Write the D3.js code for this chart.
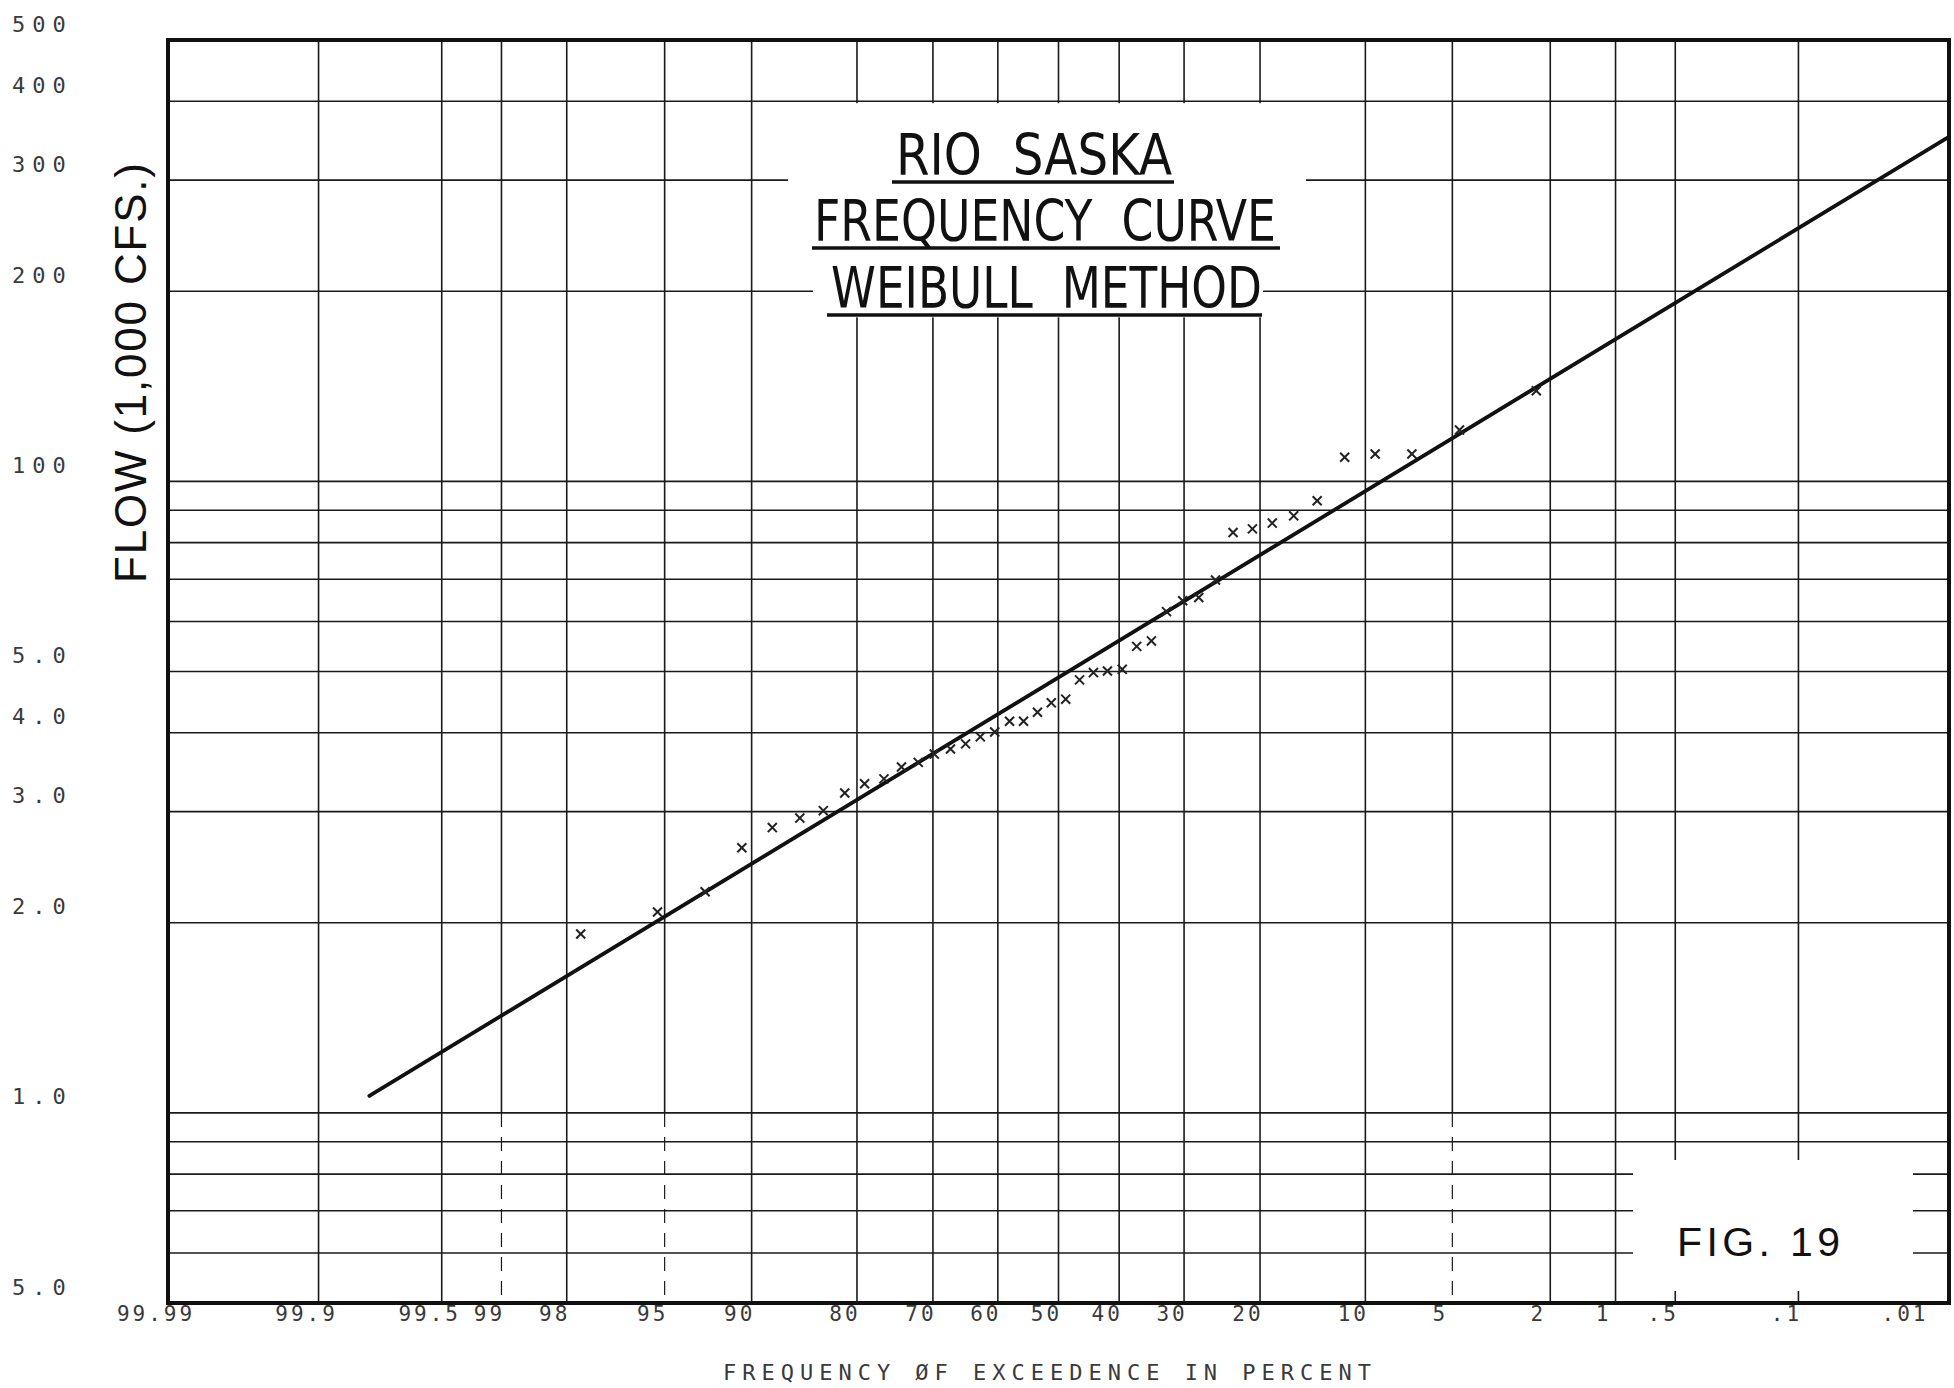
<!DOCTYPE html>
<html>
<head>
  <meta charset="UTF-8">
  <title>Rio Saska frequency curve</title>
  <style>
    body { margin: 0; background: #fff; }
    svg { display: block; }
    .tick { font-family: "DejaVu Sans Mono", monospace; font-size: 22px; fill: #3a3a3a; letter-spacing: 6px; }
    .big { font-family: "Liberation Sans", Arial, sans-serif; fill: #111; }
    .narrow { font-family: "Liberation Sans Narrow", "DejaVu Sans Condensed", "Liberation Sans", sans-serif; fill: #111; white-space: pre; }
  </style>
</head>
<body>
<svg></svg>
<script src="https://d3js.org/d3.v7.min.js"></script>
<script>

// plotted points: frequency of exceedence (%) and flow (1,000 cfs)
const exceed = [2.3, 4.7, 7.0, 9.3, 11.6, 14.0, 16.3, 18.6, 20.9, 23.3, 25.6, 27.9, 30.2, 32.6,
  34.9, 37.2, 39.5, 41.9, 44.2, 46.5, 48.8, 51.2, 53.5, 55.8, 58.1, 60.5, 62.8, 65.1,
  67.4, 69.8, 72.1, 74.4, 76.7, 79.1, 81.4, 83.7, 86.0, 88.4, 90.7, 93.0, 95.3, 97.7];
const flow = [139.2, 120.6, 110.5, 110.5, 109.2, 93.2, 88.2, 85.9, 84.1, 83.0, 69.8, 65.5, 64.7, 62.2,
  55.9, 54.8, 50.4, 50.1, 49.8, 48.5, 45.2, 44.6, 43.1, 41.7, 41.7, 40.1, 39.4, 38.4,
  37.7, 37.0, 35.9, 35.3, 33.8, 33.2, 32.1, 30.1, 29.3, 28.3, 26.3, 22.4, 20.8, 19.2];

// fitted frequency line (end points)
const lineExceed = [99.8, 0.0103];
const lineFlow = [10.64, 350];

// grid of the probability paper
const flowGrid = [400, 300, 200, 100, 90, 80, 70, 60, 50, 40, 30, 20, 10, 9, 8, 7, 6];
const exceedGrid = [99.9, 99.5, 99, 98, 95, 90, 80, 70, 60, 50, 40, 30, 20, 10, 5, 2, 1, 0.5, 0.1];
const exceedDashedLow = [99, 95, 5];
const exceedTickOnly = [0.5, 0.1];

// tick labels
const xTickValues = [99.99, 99.9, 99.5, 99, 98, 95, 90, 80, 70, 60, 50, 40, 30, 20, 10, 5, 2, 1, 0.5, 0.1, 0.01];
const xTickLabels = ["99.99", "99.9", "99.5", "99", "98", "95", "90", "80", "70", "60", "50",
  "40", "30", "20", "10", "5", "2", "1", ".5", ".1", ".01"];
const yTickValues = [500, 400, 300, 200, 100, 50, 40, 30, 20, 10, 5];
const yTickLabels = ["500", "400", "300", "200", "100", "5.0", "4.0", "3.0", "2.0", "1.0", "5.0"];

const titleLines = ["RIO  SASKA", "FREQUENCY  CURVE", "WEIBULL  METHOD"];

let width = 1954, height = 1388;
let frameL = 168, frameR = 1949, frameT = 40, frameB = 1303;

let svg = d3.select("svg").attr("width", width).attr("height", height);

// inverse normal cdf (Acklam)
function probit(p) {
  const a = [-39.6968302866538, 220.946098424521, -275.928510446969, 138.357751867269, -30.6647980661472, 2.50662827745924];
  const b = [-54.4760987982241, 161.585836858041, -155.698979859887, 66.8013118877197, -13.2806815528857];
  const c = [-0.00778489400243029, -0.322396458041136, -2.40075827716184, -2.54973253934373, 4.37466414146497, 2.93816398269878];
  const d = [0.00778469570904146, 0.32246712907004, 2.445134137143, 3.75440866190742];
  const lo = 0.02425;
  let q, r;
  if (p < lo) {
    q = Math.sqrt(-2 * Math.log(p));
    return (((((c[0]*q+c[1])*q+c[2])*q+c[3])*q+c[4])*q+c[5]) / ((((d[0]*q+d[1])*q+d[2])*q+d[3])*q+1);
  } else if (p <= 1 - lo) {
    q = p - 0.5; r = q * q;
    return (((((a[0]*r+a[1])*r+a[2])*r+a[3])*r+a[4])*r+a[5])*q / (((((b[0]*r+b[1])*r+b[2])*r+b[3])*r+b[4])*r+1);
  }
  q = Math.sqrt(-2 * Math.log(1 - p));
  return -(((((c[0]*q+c[1])*q+c[2])*q+c[3])*q+c[4])*q+c[5]) / ((((d[0]*q+d[1])*q+d[2])*q+d[3])*q+1);
}

let zScale = d3.scaleLinear().domain([-3.719, 3.719]).range([frameL, frameR]);
let x = p => zScale(probit(1 - p / 100));
let y = d3.scaleLog().domain([5, 500]).range([frameB, frameT]);

let grid = svg.append("g").attr("stroke", "#1a1a1a").attr("stroke-width", 1.6);

grid.selectAll("line.h")
  .data(flowGrid)
  .enter().append("line")
    .attr("x1", frameL).attr("x2", frameR)
    .attr("y1", d => y(d)).attr("y2", d => y(d));

grid.selectAll("line.v")
  .data(exceedGrid)
  .enter().append("line")
    .attr("x1", d => x(d)).attr("x2", d => x(d))
    .attr("y1", frameT)
    .attr("y2", d => exceedDashedLow.includes(d) ? y(10) : frameB);

grid.selectAll("line.vd")
  .data(exceedDashedLow)
  .enter().append("line")
    .attr("stroke-dasharray", "14,10")
    .attr("stroke-width", 1.2)
    .attr("x1", d => x(d)).attr("x2", d => x(d))
    .attr("y1", y(10)).attr("y2", frameB);

// pasted-over title panel and figure panel
let white = svg.append("g").attr("fill", "#fff");
white.append("rect").attr("x", 788).attr("y", y(400) + 2).attr("width", 518).attr("height", y(200) - y(400) - 10);
white.append("rect").attr("x", 813).attr("y", y(200) - 10).attr("width", 450).attr("height", 36);
white.append("rect").attr("x", 1633).attr("y", 1160).attr("width", 280).attr("height", frameB - 1161);

let ticks = svg.append("g").attr("stroke", "#1a1a1a").attr("stroke-width", 1.6);
ticks.selectAll("line")
  .data(exceedTickOnly)
  .enter().append("line")
    .attr("x1", d => x(d)).attr("x2", d => x(d))
    .attr("y1", frameB - 12).attr("y2", frameB);

// frame
svg.append("rect")
  .attr("x", frameL).attr("y", frameT)
  .attr("width", frameR - frameL).attr("height", frameB - frameT)
  .attr("fill", "none").attr("stroke", "#111").attr("stroke-width", 4);

// fitted line
svg.append("line")
  .attr("x1", x(lineExceed[0])).attr("y1", y(lineFlow[0]))
  .attr("x2", x(lineExceed[1])).attr("y2", y(lineFlow[1]))
  .attr("stroke", "#111").attr("stroke-width", 3.8).attr("stroke-linecap", "round");

// data points
svg.append("g")
  .selectAll("path")
  .data(exceed)
  .enter().append("path")
    .attr("transform", (d, i) => "translate(" + x(d) + "," + y(flow[i]) + ")")
    .attr("d", d3.symbol(d3.symbolTimes, 55))
    .attr("fill", "none").attr("stroke", "#222").attr("stroke-width", 2);

// y tick labels
svg.append("g")
  .selectAll("text")
  .data(yTickValues)
  .enter().append("text")
    .attr("class", "tick")
    .attr("x", 12)
    .attr("y", d => y(d) - 16)
    .attr("dominant-baseline", "central")
    .style("letter-spacing", "7px")
    .text((d, i) => yTickLabels[i]);

// x tick labels
svg.append("g")
  .selectAll("text")
  .data(xTickValues)
  .enter().append("text")
    .attr("class", "tick")
    .attr("x", d => Math.min(x(d) - 12, 1905))
    .attr("y", 1314)
    .attr("text-anchor", "middle")
    .attr("dominant-baseline", "central")
    .style("font-size", "21px")
    .style("letter-spacing", "3px")
    .text((d, i) => xTickLabels[i]);

svg.append("text")
  .attr("class", "tick")
  .attr("x", 723).attr("y", 1372)
  .attr("dominant-baseline", "central")
  .attr("textLength", 648)
  .style("font-size", "22px")
  .style("letter-spacing", "0px")
  .text("FREQUENCY ØF EXCEEDENCE IN PERCENT");

svg.append("text")
  .attr("class", "big")
  .attr("transform", "translate(146,373) rotate(-90)")
  .attr("text-anchor", "middle")
  .attr("textLength", 420)
  .style("font-size", "44px")
  .text("FLOW (1,000 CFS.)");

// title
let titleX = [896, 814, 831], titleW = [276, 462, 431], titleY = [175, 241, 308];
let uX = [892, 812, 827], uW = [282, 468, 435];
svg.append("g")
  .selectAll("text")
  .data(titleLines)
  .enter().append("text")
    .attr("class", "narrow")
    .attr("x", (d, i) => titleX[i])
    .attr("y", (d, i) => titleY[i])
    .attr("textLength", (d, i) => titleW[i])
    .attr("lengthAdjust", "spacingAndGlyphs")
    .style("font-size", "57px")
    .text(d => d);
svg.append("g")
  .selectAll("line")
  .data(titleLines)
  .enter().append("line")
    .attr("x1", (d, i) => uX[i]).attr("x2", (d, i) => uX[i] + uW[i])
    .attr("y1", (d, i) => titleY[i] + 7).attr("y2", (d, i) => titleY[i] + 7)
    .attr("stroke", "#111").attr("stroke-width", 3.5);

svg.append("text")
  .attr("class", "big")
  .attr("x", 1677).attr("y", 1256)
  .attr("textLength", 163)
  .style("font-size", "41px")
  .text("FIG. 19");

</script>
</body>
</html>
